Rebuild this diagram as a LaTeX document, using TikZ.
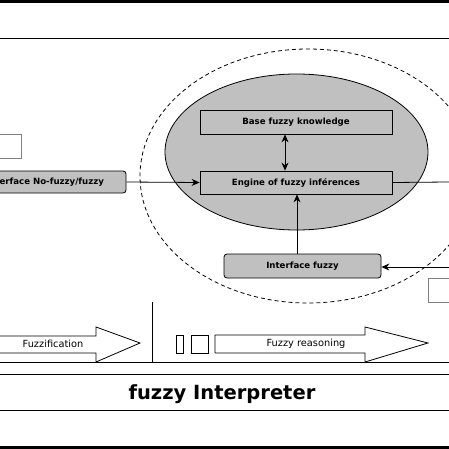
\documentclass[tikz,border=0pt]{standalone}
\usepackage{fontspec}
\setmainfont{DejaVu Sans}
\usetikzlibrary{arrows.meta}
\definecolor{boxgray}{HTML}{C0C0C0}
\begin{document}
\begin{tikzpicture}[x=1pt,y=-1pt,
  thin line/.style={line width=0.8pt},
  graybox/.style={draw, thin line, fill=boxgray, inner sep=0pt, font=\fontsize{8.6}{10}\selectfont\bfseries},
  roundbox/.style={graybox, rounded corners=3pt},
  tipped/.style={thin line, -{Stealth[length=8pt,width=7pt]}},
  bothtipped/.style={thin line, {Stealth[length=8pt,width=7pt]}-{Stealth[length=8pt,width=7pt]}},
  smallbox/.style={draw=gray, thin line, fill=white, inner sep=0pt},
  bigarrow/.style={draw, thin line, fill=white},
  arrowlabel/.style={font=\fontsize{9.8}{11}\selectfont}
]
\useasboundingbox (0,0) rectangle (449,449);
\clip (0,0) rectangle (449,449);
% frame lines
\fill (0,0) rectangle (449,3.5);
\draw[thin line] (0,38) -- (449,38);
\draw[thin line] (0,362) -- (449,362);
\draw[thin line] (0,374) -- (449,374);
\draw[thin line] (0,410) -- (449,410);
\fill (0,445.5) rectangle (449,449);
% ellipses
\draw[thin line, dash pattern=on 4pt off 3pt] (308,176) ellipse [x radius=168pt, y radius=127pt];
\draw[thin line, fill=boxgray] (296.5,152) ellipse [x radius=131.5pt, y radius=78pt];
% boxes
\node[graybox, minimum width=192pt, minimum height=24pt] (base) at (296,122) {Base fuzzy knowledge};
\node[graybox, minimum width=192pt, minimum height=23pt] (engine) at (296,182.5) {Engine of fuzzy inférences};
\node[roundbox, minimum width=157pt, minimum height=24pt] (ifuzzy) at (302.5,266) {Interface fuzzy};
\node[roundbox, minimum width=162pt, minimum height=22pt] (nofuzzy) at (45,182) {Interface No-fuzzy/fuzzy};
\node[smallbox, minimum width=46pt, minimum height=24pt] (lbox) at (-2,146) {};
\node[smallbox, minimum width=46pt, minimum height=24pt] (rbox) at (451,290) {};
% connectors
\coordinate (rout) at (449,182);
\coordinate (rin) at (449,267);
\draw[bothtipped] ([xshift=-11pt]base.south) -- ([xshift=-11pt]engine.north);
\draw[tipped] ([xshift=1pt]engine.south |- ifuzzy.north) -- ([xshift=1pt]engine.south);
\draw[tipped] (nofuzzy.east) -- (engine.west);
\draw[thin line] (engine.east) -- (rout);
\draw[tipped] (rin) -- (rin -| ifuzzy.east);
% bottom band
\draw[thin line] (152.5,302) -- (152.5,362);
\draw[thin line] (176,335) rectangle (183,353);
\draw[thin line] (191,335) rectangle (208,353);
\draw[bigarrow] (-5,336) -- (96,336) -- (96,327) -- (140,343) -- (96,362) -- (96,353) -- (-5,353) -- cycle;
\node[arrowlabel] (fuzzif) at (53,344) {Fuzzification};
\draw[bigarrow] (215,335) -- (365,335) -- (365,327) -- (428,343) -- (365,362) -- (365,353) -- (215,353) -- cycle;
\node[arrowlabel] (reason) at (306,344) {Fuzzy reasoning};
\node[font=\fontsize{19.5}{22}\selectfont\bfseries] (title) at (222,394) {fuzzy Interpreter};
\end{tikzpicture}
\end{document}
